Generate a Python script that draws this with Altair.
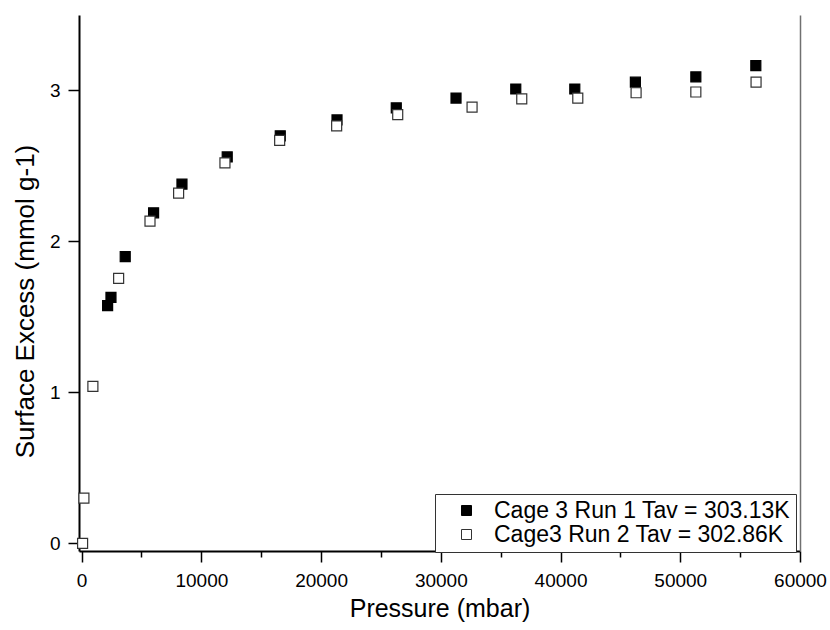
import altair as alt
import pandas as pd

# ---- data ----
series_names = ["Cage 3 Run 1 Tav = 303.13K", "Cage3 Run 2 Tav = 302.86K"]

run1_pressure = [2170, 2450, 3640, 6010, 8380, 12160, 16590, 21330, 26280,
                 31270, 36260, 41190, 46250, 51300, 56310]
run1_excess = [1.575, 1.63, 1.90, 2.19, 2.38, 2.56, 2.70, 2.805, 2.885,
               2.95, 3.01, 3.01, 3.055, 3.09, 3.165]

run2_pressure = [80, 190, 940, 3090, 5710, 8100, 11970, 16540, 21300, 26400,
                 32610, 36760, 41440, 46310, 51300, 56330]
run2_excess = [0.0, 0.30, 1.04, 1.755, 2.135, 2.32, 2.52, 2.67, 2.765, 2.84,
               2.89, 2.945, 2.95, 2.985, 2.99, 3.055]

x_tick_values = [0, 5000, 10000, 15000, 20000, 25000, 30000,
                 35000, 40000, 45000, 50000, 55000, 60000]
y_tick_values = [0, 0.5, 1, 1.5, 2, 2.5, 3, 3.5]

df = pd.concat([
    pd.DataFrame({"pressure": run1_pressure, "excess": run1_excess,
                  "series": series_names[0]}),
    pd.DataFrame({"pressure": run2_pressure, "excess": run2_excess,
                  "series": series_names[1]}),
], ignore_index=True)

FONT = "Liberation Sans"

x_scale = alt.Scale(domain=[-220, 60000], nice=False, zero=False)
y_scale = alt.Scale(domain=[-0.05, 3.5], nice=False, zero=False)

legend = alt.Legend(
    title=None, orient="none", legendX=356, legendY=479, direction="vertical",
    labelFont=FONT, labelFontSize=23, labelColor="#000000", labelLimit=600,
    padding=5, symbolOffset=15, labelOffset=16, rowPadding=0,
    symbolSize=100, symbolStrokeWidth=1, strokeColor="#333333",
    fillColor="#ffffff",
)

x_axis = alt.Axis(
    values=x_tick_values, format="d",
    labelExpr="datum.value % 10000 === 0 ? datum.label : ''",
    tickSize={"condition": {"test": "datum.value % 10000 === 0", "value": 11}, "value": 6},
    grid=False, domainColor="#000000", domainWidth=2, tickColor="#000000",
    tickWidth=1.5, labelFont=FONT, labelFontSize=19, labelColor="#000000",
    labelPadding=9, labelFlush=False, labelOverlap=False,
    title="Pressure (mbar)", titleFont=FONT, titleFontSize=25,
    titleFontWeight="normal", titleColor="#000000", titlePadding=6,
)

y_axis = alt.Axis(
    values=y_tick_values, format="d",
    labelExpr="datum.value % 1 === 0 ? datum.label : ''",
    tickSize={"condition": {"test": "datum.value % 1 === 0", "value": 11}, "value": 6},
    grid=False, domainColor="#000000", domainWidth=2, tickColor="#000000",
    tickWidth=1.5, labelFont=FONT, labelFontSize=19, labelColor="#000000",
    labelPadding=8, labelFlush=False, labelOverlap=False,
    title="Surface Excess (mmol g-1)", titleFont=FONT, titleFontSize=26,
    titleFontWeight="normal", titleColor="#000000", titleX=-41, titleY=286,
)

fill_scale = alt.Scale(domain=series_names, range=["#000000", "#ffffff"])
stroke_scale = alt.Scale(domain=series_names, range=["#000000", "#333333"])

points = alt.Chart(df).mark_point(
    shape="square", filled=True, size=100, strokeWidth=1.2, opacity=1
).encode(
    x=alt.X("pressure:Q", scale=x_scale, axis=x_axis),
    y=alt.Y("excess:Q", scale=y_scale, axis=y_axis),
    fill=alt.Fill("series:N", scale=fill_scale, legend=legend),
    stroke=alt.Stroke("series:N", scale=stroke_scale, legend=legend),
)

right_frame = alt.Chart(df).mark_point(opacity=0).encode(
    x=alt.X("pressure:Q", scale=x_scale),
    y=alt.Y("excess:Q", scale=y_scale, axis=alt.Axis(
        orient="right", labels=False, ticks=False, grid=False, title=None,
        domainColor="#707070", domainWidth=1.5)),
)

chart = alt.layer(points, right_frame).resolve_axis(
    y="independent"
).properties(
    width=721, height=536,
    autosize=alt.AutoSizeParams(type="none"),
    padding={"left": 79, "top": 15, "right": 30, "bottom": 79},
    background="#ffffff",
).configure_view(stroke=None)

chart.save("out.html", embed_options={"renderer": "svg", "actions": False})
